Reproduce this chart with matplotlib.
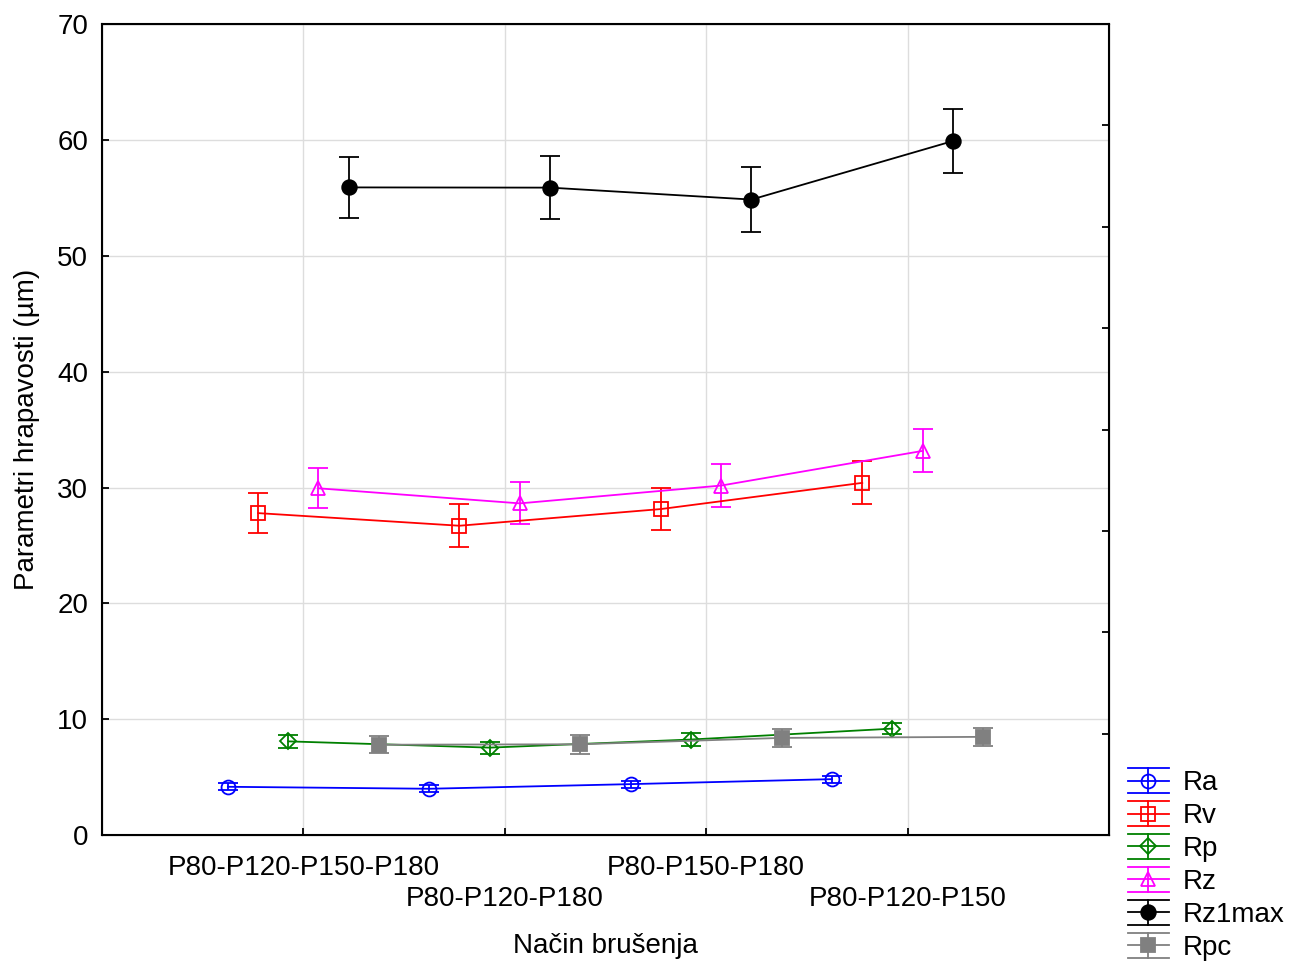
import numpy as np
import matplotlib.pyplot as plt
from matplotlib.lines import Line2D
from matplotlib.legend_handler import HandlerBase

plt.rcParams['font.family'] = ['Liberation Sans', 'DejaVu Sans']

# nacini brusenja i parametri hrapavosti (srednja vrijednost +- interval)
nacini = ['P80-P120-P150-P180', 'P80-P120-P180', 'P80-P150-P180', 'P80-P120-P150']

Ra = [4.17, 4.00, 4.40, 4.83]
Ra_err = [0.30, 0.30, 0.30, 0.30]
Rv = [27.79, 26.70, 28.14, 30.40]
Rv_err = [1.75, 1.84, 1.84, 1.86]
Rp = [8.09, 7.55, 8.25, 9.19]
Rp_err = [0.55, 0.52, 0.57, 0.50]
Rz = [29.93, 28.63, 30.17, 33.16]
Rz_err = [1.74, 1.81, 1.86, 1.86]
Rz1max = [55.90, 55.88, 54.85, 59.90]
Rz1max_err = [2.62, 2.74, 2.78, 2.80]
Rpc = [7.80, 7.84, 8.39, 8.48]
Rpc_err = [0.75, 0.82, 0.79, 0.79]

serije = [
    ('Ra', Ra, Ra_err, 'blue', 'o', 'none'),
    ('Rv', Rv, Rv_err, 'red', 's', 'none'),
    ('Rp', Rp, Rp_err, 'green', 'D', 'none'),
    ('Rz', Rz, Rz_err, 'magenta', '^', 'none'),
    ('Rz1max', Rz1max, Rz1max_err, 'black', 'o', 'black'),
    ('Rpc', Rpc, Rpc_err, 'gray', 's', 'gray'),
]


class HandlerGreska(HandlerBase):
    # legenda u stilu: linija, dvije kapice preko cijele sirine i marker
    def create_artists(self, legend, orig, xd, yd, w, h, fs, trans):
        c = orig.get_color()
        y0 = h / 2 - yd
        dy = 0.45 * fs
        art = []
        for yy in (y0 - dy, y0, y0 + dy):
            art.append(Line2D([-xd, w - xd], [yy, yy], color=c, lw=1.3))
        xm = (w - xd * 2) / 2
        art.append(Line2D([xm, xm], [y0 - dy, y0 + dy], color=c, lw=1.3))
        art.append(Line2D([xm], [y0], marker=orig.get_marker(), ms=orig.get_markersize(),
                          mfc=orig.get_markerfacecolor(), mec=c, mew=1.3))
        for a in art:
            a.set_transform(trans)
        return art


fig = plt.figure(figsize=(12.91, 9.61), dpi=100)
ax = fig.add_axes([0.079, 0.131, 0.780, 0.844])

x = np.arange(1, len(nacini) + 1)
pomaci = np.linspace(-0.375, 0.375, len(serije))

ruke = []
for (ime, y, e, boja, mk, fc), dx in zip(serije, pomaci):
    ms = 10 if fc == 'none' else 10.5
    if mk == 'D':
        ms = 8.5
    ax.errorbar(x + dx, y, yerr=e, color=boja, marker=mk, ms=ms, mfc=fc, mec=boja,
                mew=1.3, lw=1.3, elinewidth=1.3, capsize=7, capthick=1.3)
    ruke.append(Line2D([], [], color=boja, marker=mk, ms=ms, mfc=fc, label=ime))

ax.set_xlim(0, 5)
ax.set_ylim(0, 70)
ax.set_yticks(np.arange(0, 71, 10))

# oznake na x osi u dva reda: neparne na glavnim, parne na sporednim crticama
ax.set_xticks(x[::2])
ax.set_xticklabels(nacini[::2], fontsize=20)
ax.set_xticks(x[1::2], minor=True)
ax.set_xticklabels(nacini[1::2], minor=True, fontsize=20)
ax.tick_params(axis='x', which='major', direction='in', length=5, width=1.3, pad=14)
ax.tick_params(axis='x', which='minor', direction='in', length=5, width=1.3, pad=37)
ax.tick_params(axis='y', labelsize=20, direction='in', length=5, width=1.3, pad=10)
ax.grid(True, which='major', color='#dddddd', lw=1)
ax.grid(True, which='minor', axis='x', color='#dddddd', lw=1)
ax.set_axisbelow(True)
for s in ax.spines.values():
    s.set_linewidth(1.5)

# desna os ima vlastitu podjelu na 8 dijelova
ax2 = ax.twinx()
ax2.set_ylim(0, 70)
ax2.set_yticks(np.arange(1, 8) * 8.75)
ax2.set_yticklabels([])
ax2.tick_params(axis='y', direction='in', length=5, width=1.3)

ax.set_xlabel('Način brušenja', fontsize=20, labelpad=15)
ax.set_ylabel('Parametri hrapavosti (µm)', fontsize=20, labelpad=12)

fig.legend(handles=ruke, handler_map={Line2D: HandlerGreska()}, loc='lower left',
           bbox_to_anchor=(0.874, 0.0), frameon=False, fontsize=20,
           handlelength=1.45, handletextpad=0.5, labelspacing=0.25, borderpad=0,
           borderaxespad=0)

fig.savefig('out.png', dpi=100)
